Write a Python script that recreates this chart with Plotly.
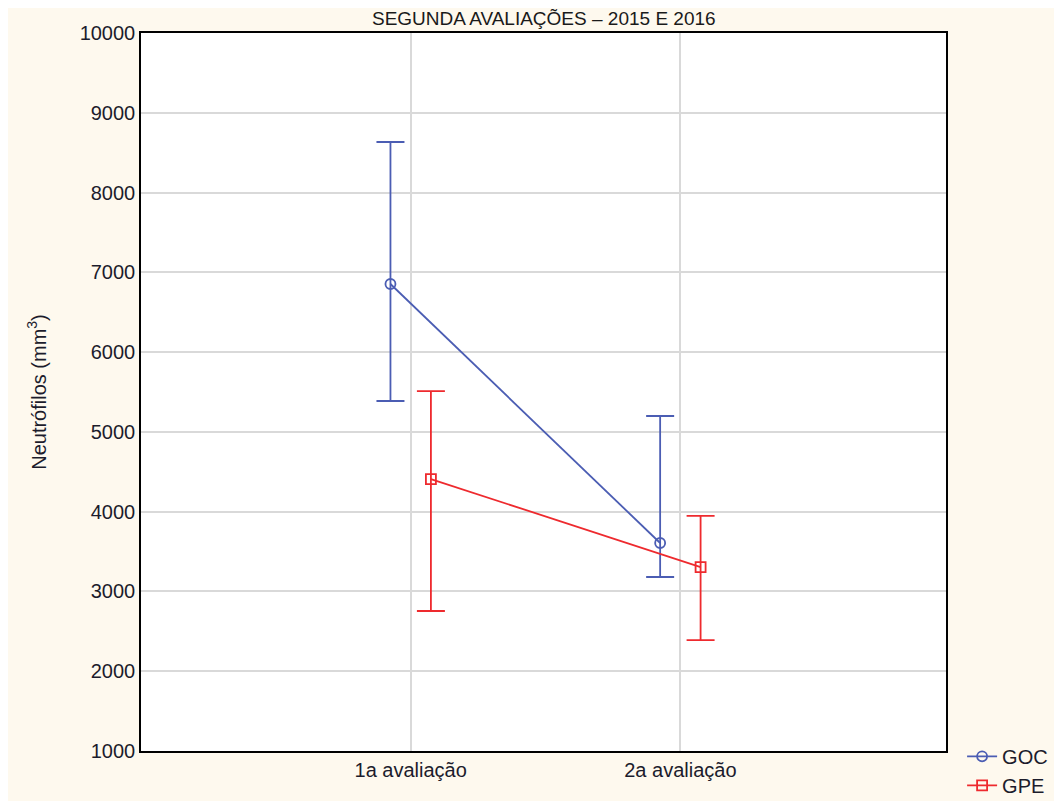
import plotly.graph_objects as go

categories = ["1a avaliação", "2a avaliação"]
cat_pos = [1, 2]
goc_mean = [6854, 3607]
goc_upper = [8634, 5199]
goc_lower = [5387, 3181]
gpe_mean = [4409, 3306]
gpe_upper = [5512, 3946]
gpe_lower = [2755, 2391]
yticks = [1000, 2000, 3000, 4000, 5000, 6000, 7000, 8000, 9000, 10000]
ytick_labels = [str(v) for v in yticks]

offset = 0.075
blue = "#4B5DB3"
red = "#EE2A2E"

fig = go.Figure()

def add_series(name, means, upper, lower, color, symbol, sign):
    xs = [p + sign * offset for p in cat_pos]
    fig.add_trace(go.Scatter(
        x=xs, y=means, name=name, mode="lines+markers",
        line=dict(color=color, width=1.8),
        marker=dict(symbol=symbol, size=10, color=color,
                    line=dict(color=color, width=1.8)),
        error_y=dict(type="data", symmetric=False,
                     array=[u - m for u, m in zip(upper, means)],
                     arrayminus=[m - l for m, l in zip(means, lower)],
                     color=color, thickness=1.8, width=14),
    ))

add_series("GOC", goc_mean, goc_upper, goc_lower, blue, "circle-open", -1)
add_series("GPE", gpe_mean, gpe_upper, gpe_lower, red, "square-open", 1)

fig.add_annotation(text="SEGUNDA AVALIAÇÕES – 2015 E 2016", xref="paper", yref="paper",
                   x=0.5, y=1.0, yshift=15, yanchor="middle", showarrow=False,
                   font=dict(family="Liberation Sans, Arial", size=19, color="#1a1a1a"))

fig.update_layout(
    width=1054, height=793,
    paper_bgcolor="#FEF9EE", plot_bgcolor="#FFFFFF",
    margin=dict(l=133, r=116, t=25, b=50, autoexpand=False),
    font=dict(family="Liberation Sans, Arial", size=20, color="#1c1c2c"),
    showlegend=True,
    legend=dict(x=1.02, y=-0.075, xanchor="left", yanchor="bottom",
                bgcolor="rgba(0,0,0,0)", font=dict(size=20),
                tracegroupgap=0, itemwidth=30),
)
fig.update_xaxes(range=[0.0, 2.985], tickvals=cat_pos, ticktext=categories,
                 showgrid=True, gridcolor="#D9D9D9", gridwidth=1.5,
                 showline=True, linecolor="black", linewidth=1.5, mirror=True,
                 ticks="", zeroline=False, automargin=False)
fig.update_yaxes(range=[1000, 10000], tickvals=yticks, ticktext=ytick_labels,
                 title=dict(text="Neutrófilos (mm<sup>3</sup>)", font=dict(size=20), standoff=28),
                 showgrid=True, gridcolor="#D9D9D9", gridwidth=1.5,
                 showline=True, linecolor="black", linewidth=1.5, mirror=True,
                 ticks="", zeroline=False, automargin=False)

fig.write_html("out.html")
